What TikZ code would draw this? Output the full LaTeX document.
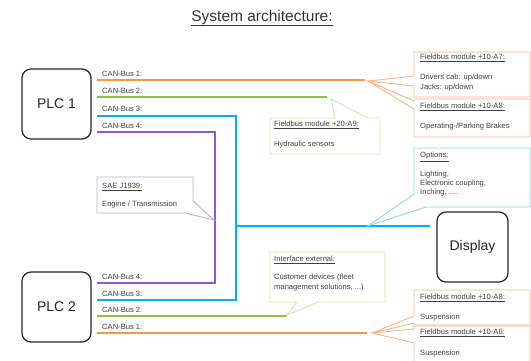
\documentclass[tikz,border=0pt]{standalone}
\usepackage{fontspec}
\setmainfont{Liberation Sans}
\definecolor{borange}{HTML}{F79646}
\definecolor{bgreen}{HTML}{8CC63F}
\definecolor{bblue}{HTML}{00B0F0}
\definecolor{bpurple}{HTML}{9657C8}
\definecolor{txtgray}{HTML}{404040}
\definecolor{lgreen}{HTML}{D5E3B5}
\definecolor{lpurple}{HTML}{B9AED0}
\definecolor{lblue}{HTML}{8AD8F5}
\definecolor{lorange}{HTML}{F9B487}
\tikzset{
  plc/.style={draw=black!85, line width=1.2pt, rounded corners=9pt, minimum width=69pt, minimum height=70pt, font=\fontsize{14}{16}\selectfont, text=black!85},
  bus/.style={line width=2pt},
  lbl/.style={anchor=west, inner sep=0pt, font=\fontsize{7.6}{9}\selectfont, text=txtgray},
  callout/.style={fill=white, line width=0.9pt, line join=miter}
}
\begin{document}
\begin{tikzpicture}[x=1pt,y=-1pt]
\useasboundingbox (0,0) rectangle (531,361);
\fill[white] (0,0) rectangle (531,361);
% title
\node[font=\fontsize{15.5}{18}\selectfont, text=black!80] (title) at (262,18) {\underline{System architecture:}};
% main nodes
\node[plc] (plc1) at (56.5,104) {PLC 1};
\node[plc] (plc2) at (56.5,307) {PLC 2};
\node[plc, minimum width=71pt] (disp) at (472.5,247) {Display};
% bus coordinates
\coordinate (s11) at (97,80.5);
\coordinate (s12) at (97,97);
\coordinate (s13) at (97,116);
\coordinate (s14) at (97,132);
\coordinate (s24) at (97,283);
\coordinate (s23) at (97,300);
\coordinate (s22) at (97,316);
\coordinate (s21) at (97,333);
\coordinate (e1) at (365,80.5);
\coordinate (e2) at (327,97);
\coordinate (e21) at (367,333);
\coordinate (e22) at (287,316);
\coordinate (bj) at (236,226);
\coordinate (be) at (430,226);
% buses
\draw[bus, borange] (s11) -- (e1);
\draw[bus, bgreen] (s12) -- (e2);
\draw[bus, bblue] (s13) -| (bj) |- (s23);
\draw[bus, bblue] (bj) -- (be);
\draw[bus, bpurple] (s14) -| (215,200) |- (s24);
\draw[bus, borange] (s21) -- (e21);
\draw[bus, bgreen] (s22) -- (e22);
% bus labels
\node[lbl] (l11) at (102,74) {CAN-Bus 1:};
\node[lbl] (l12) at (102,91) {CAN-Bus 2:};
\node[lbl] (l13) at (102,109) {CAN-Bus 3:};
\node[lbl] (l14) at (102,125.5) {CAN-Bus 4:};
\node[lbl] (l24) at (102,277) {CAN-Bus 4:};
\node[lbl] (l23) at (102,293.5) {CAN-Bus 3:};
\node[lbl] (l22) at (102,309.5) {CAN-Bus 2:};
\node[lbl] (l21) at (102,326.5) {CAN-Bus 1:};
% callouts: upper orange
\draw[callout, draw=lorange] (414,52) -- (530,52) -- (530,97) -- (414,97) -- (414,86) -- (368,81) -- (414,76) -- cycle;
\draw[callout, draw=lorange] (414,99) -- (530,99) -- (530,137) -- (414,137) -- (414,109) -- (368,81) -- (414,101) -- cycle;
\node[lbl] (a7h) at (420,58) {\underline{Fieldbus module +10-A7:}};
\node[lbl] (a7a) at (420,78) {Drivers cab: up/down};
\node[lbl] (a7b) at (420,88) {Jacks: up/down};
\node[lbl] (a8h) at (420,107) {\underline{Fieldbus module +10-A8:}};
\node[lbl] (a8a) at (420,127) {Operating-/Parking Brakes};
% hydraulic
\draw[callout, draw=lgreen] (270,118) -- (335,118) -- (331,99) -- (368,118) -- (380,118) -- (380,154) -- (270,154) -- cycle;
\node[lbl] (a9h) at (274,125) {\underline{Fieldbus module +20-A9:}};
\node[lbl] (a9a) at (274,145) {Hydraulic sensors};
% options
\draw[callout, draw=lblue] (414,148) -- (530,148) -- (530,207) -- (426,207) -- (368,226) -- (414,194) -- cycle;
\node[lbl] (oh) at (420,157) {\underline{Options:}};
\node[lbl] (oa) at (420,175) {Lighting,};
\node[lbl] (ob) at (420,184) {Electronic coupling,};
\node[lbl] (oc) at (420,193) {Inching, ....};
% SAE
\draw[callout, draw=lpurple] (97,177) -- (193,177) -- (193,201) -- (214,220) -- (185,213) -- (97,213) -- cycle;
\node[lbl] (sh) at (102,187) {\underline{SAE J1939:}};
\node[lbl] (sa) at (102,205) {Engine / Transmission};
% interface external
\draw[callout, draw=lgreen] (270,252) -- (385,252) -- (385,302) -- (318,302) -- (287,315) -- (297,302) -- (270,302) -- cycle;
\node[lbl] (ih) at (274,260) {\underline{Interface external:}};
\node[lbl] (ia) at (274,278) {Customer devices (fleet};
\node[lbl] (ib) at (274,288) {management solutions, ...)};
% lower orange
\draw[callout, draw=lorange] (414,290) -- (530,290) -- (530,325) -- (414,325) -- (414,323) -- (372,333) -- (414,316) -- cycle;
\draw[callout, draw=lorange] (414,326) -- (530,326) -- (530,366) -- (414,366) -- (414,343) -- (372,333) -- (414,329) -- cycle;
\node[lbl] (b8h) at (420,298) {\underline{Fieldbus module +10-A8:}};
\node[lbl] (b8a) at (420,318) {Suspension};
\node[lbl] (b6h) at (420,333) {\underline{Fieldbus module +10-A6:}};
\node[lbl] (b6a) at (420,354) {Suspension};
\end{tikzpicture}
\end{document}
